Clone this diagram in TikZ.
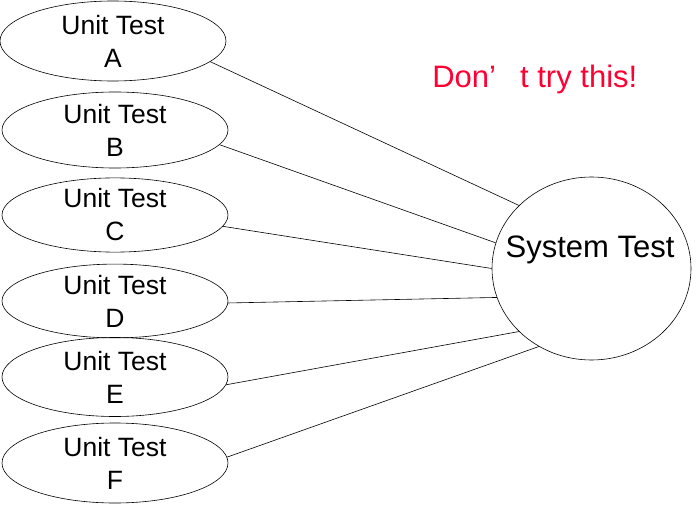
\documentclass[tikz,border=0pt]{standalone}
\usepackage{fontspec}
\setmainfont{Liberation Sans}
\usetikzlibrary{shapes.geometric}
\definecolor{warnred}{RGB}{255,0,51}

\begin{document}
\begin{tikzpicture} [x=1pt, y=-1pt, line width=0.6pt,
	unittest/.style={ellipse, draw, inner sep=0pt, minimum width=226pt, align=center, font=\fontsize{26.5}{33}\selectfont},
	systest/.style={ellipse, draw, inner sep=0pt, minimum width=199pt, minimum height=183pt}]
				\useasboundingbox (0, 0) rectangle (697, 511);
				\node [unittest, minimum height=80pt] (A) at (113, 41) {Unit Test\\A};
				\node [unittest, minimum height=76pt] (B) at (115, 130) {Unit Test\\B};
				\node [unittest, minimum height=70pt] (C) at (115, 215) {Unit Test\\C};
				\node [unittest, minimum height=72pt] (D) at (115, 301) {Unit Test\\D};
				\node [unittest, minimum height=79pt] (E) at (115, 377) {Unit Test\\E};
				\node [unittest, minimum height=80pt] (F) at (115, 463) {Unit Test\\F};
				\node [systest] (sys) at (591.5, 268.5) {};
				\node [font=\fontsize{31}{37}\selectfont] (systxt) at (590, 250) {System Test};
				\node [anchor=base west, inner sep=0pt, text=warnred, font=\fontsize{31}{37}\selectfont] (warn) at (432, 88) {Don\makebox[1em][l]{’}t try this!};
				\draw (A.-12.5)--(sys.139.6);
				\draw (B.-8.3)--(sys.165.2);
				\draw (C.-6.8)--(sys.180);
				\draw (D.-1)--(sys.-163.2);
				\draw (E.-4.6)--(sys.-139.6);
				\draw (F.3.5)--(sys.-124);

			\end{tikzpicture}
\end{document}
